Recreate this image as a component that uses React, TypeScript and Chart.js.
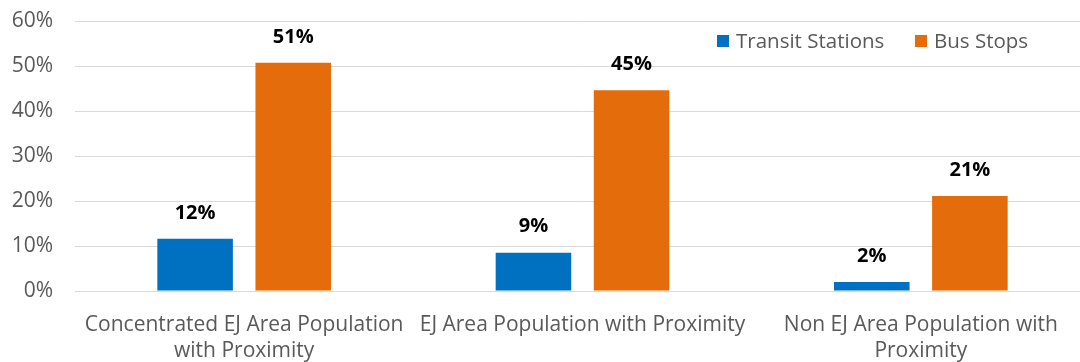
import React, { useEffect, useRef } from "react";
import { Chart, registerables } from "chart.js";

Chart.register(...registerables);

const categories: (string | string[])[] = [
  ["Concentrated EJ Area Population", "with Proximity"],
  "EJ Area Population with Proximity",
  ["Non EJ Area Population with", "Proximity"],
];
const transitStations = [11.6, 8.5, 2.0];
const busStops = [50.7, 44.6, 21.1];
const transitLabels = ["12%", "9%", "2%"];
const busLabels = ["51%", "45%", "21%"];
const seriesNames = ["Transit Stations", "Bus Stops"];
const colors = ["#0070C0", "#E46C0A"];
const yTicks = [0, 10, 20, 30, 40, 50, 60];

const FONT = "'Open Sans', 'Noto Sans', sans-serif";
const CANVAS_W = 1090;

const labelsPlugin = {
  id: "barLabels",
  afterDatasetsDraw(chart: any) {
    const ctx = chart.ctx;
    const texts = [transitLabels, busLabels];
    ctx.save();
    ctx.font = `bold 20px ${FONT}`;
    ctx.fillStyle = "#000000";
    ctx.textAlign = "center";
    ctx.textBaseline = "middle";
    chart.data.datasets.forEach((_: any, di: number) => {
      const meta = chart.getDatasetMeta(di);
      meta.data.forEach((bar: any, i: number) => {
        ctx.fillText(texts[di][i], bar.x, bar.y - 26);
      });
    });
    ctx.restore();
  },
};

const legendPlugin = {
  id: "customLegend",
  afterDraw(chart: any) {
    const ctx = chart.ctx;
    ctx.save();
    ctx.font = `20.5px ${FONT}`;
    ctx.textBaseline = "middle";
    ctx.textAlign = "left";
    const y = 41;
    const starts = [717, 915];
    seriesNames.forEach((name, i) => {
      const x = starts[i];
      ctx.fillStyle = colors[i];
      ctx.fillRect(x, y - 6, 12, 12);
      ctx.fillStyle = "#595959";
      ctx.fillText(name, x + 19, y + 1);
    });
    ctx.restore();
  },
};

export default function App() {
  const ref = useRef<HTMLCanvasElement>(null);
  useEffect(() => {
    if (!ref.current) return;
    const chart = new Chart(ref.current, {
      type: "bar",
      data: {
        labels: categories,
        datasets: [
          {
            label: seriesNames[0],
            data: transitStations,
            backgroundColor: colors[0],
            categoryPercentage: 0.58,
            barPercentage: 0.77,
          },
          {
            label: seriesNames[1],
            data: busStops,
            backgroundColor: colors[1],
            categoryPercentage: 0.58,
            barPercentage: 0.77,
          },
        ],
      },
      options: {
        animation: false,
        responsive: false,
        maintainAspectRatio: false,
        layout: { padding: { top: 0, right: 0, left: 0, bottom: 0 } },
        plugins: {
          legend: { display: false },
          tooltip: { enabled: false },
          title: { display: false },
        },
        scales: {
          x: {
            grid: { display: false, drawTicks: false },
            border: { display: true, color: "#D9D9D9", width: 1 },
            afterFit: (scale: any) => {
              scale.height = 71;
            },
            ticks: {
              color: "#595959",
              font: { family: FONT, size: 21, lineHeight: 1.24 },
              padding: 21,
              maxRotation: 0,
              autoSkip: false,
            },
          },
          y: {
            min: 0,
            max: 60,
            afterFit: (scale: any) => {
              scale.width = 75;
              scale.paddingTop = 21;
              scale.paddingBottom = 0;
            },
            afterBuildTicks: (scale: any) => {
              scale.ticks = yTicks.map((v) => ({ value: v }));
            },
            grid: { color: "#D9D9D9", drawTicks: false, lineWidth: 1 },
            border: { display: false },
            ticks: {
              color: "#595959",
              font: { family: FONT, size: 21 },
              padding: 22,
              callback: (v: any) => `${v}%`,
            },
          },
        },
      },
      plugins: [labelsPlugin, legendPlugin],
    });
    return () => chart.destroy();
  }, []);
  return (
    <div
      style={{
        position: "absolute",
        left: 0,
        top: 0,
        width: 1080,
        height: 362,
        overflow: "hidden",
        background: "#fff",
      }}
    >
      <canvas
        ref={ref}
        width={CANVAS_W}
        height={362}
        style={{ width: CANVAS_W, height: 362, display: "block" }}
      />
    </div>
  );
}
